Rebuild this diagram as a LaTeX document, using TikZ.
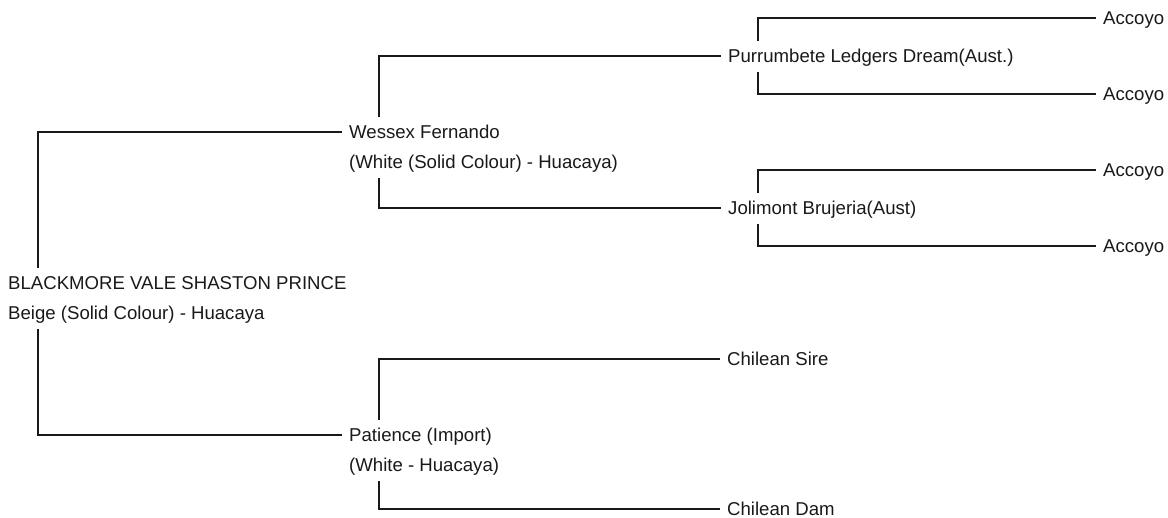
\documentclass[tikz,border=0pt]{standalone}
\usepackage{fontspec}
\setmainfont{Liberation Sans}
\usetikzlibrary{positioning}

\begin{document}
\begin{tikzpicture}[x=1pt,y=-1pt,
      every node/.style={inner sep=0pt,anchor=west,text height=13pt,text depth=0pt,
        font=\fontsize{18.6}{22}\selectfont,text=black!90},
      colour/.style={below right=17pt and 0pt of #1.south west},
      line/.style={draw=black!90,line width=1.2pt,shorten >=7pt}]
    \useasboundingbox (0,0) rectangle (1168,518);
    % generations, left to right
    \node (root) at (8,283) {BLACKMORE VALE SHASTON PRINCE};
    \node (rootc) [colour=root] {Beige (Solid Colour) - Huacaya};
    \node (wes) at (349,132) {Wessex Fernando};
    \node (wesc) [colour=wes] {(White (Solid Colour) - Huacaya)};
    \node (pat) at (349,435) {Patience (Import)};
    \node (patc) [colour=pat] {(White - Huacaya)};
    \node (pur) at (728,56) {Purrumbete Ledgers Dream(Aust.)};
    \node (jol) at (728,208) {Jolimont Brujeria(Aust)};
    \node (sire) at (727,359) {Chilean Sire};
    \node (dam) at (727,509) {Chilean Dam};
    \foreach \n/\y in {a1/18,a2/94,a3/170,a4/246}
      \node (\n) at (1103,\y) {Accoyo};
    % sire above, dam below
    \foreach \nm/\cl/\sr/\dm in {root/rootc/wes/pat,wes/wesc/pur/jol,pat/patc/sire/dam,
        pur/pur/a1/a2,jol/jol/a3/a4} {
      \draw[line] ([xshift=30pt,yshift=8pt]\nm.north west) |- (\sr.west);
      \draw[line] ([xshift=30pt,yshift=-9pt]\cl.south west) |- (\dm.west);
    }
\end{tikzpicture}
\end{document}
